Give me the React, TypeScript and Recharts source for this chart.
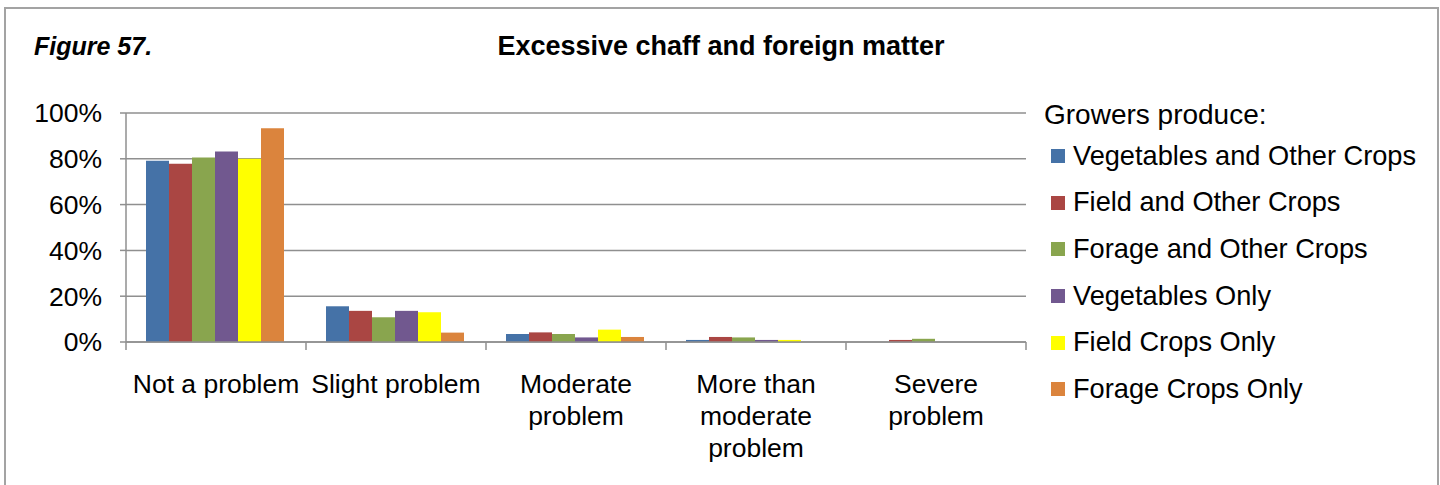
import React from "react";
import { BarChart, Bar, XAxis, YAxis, CartesianGrid, Legend } from "recharts";

const categories = [
  "Not a problem",
  "Slight problem",
  "Moderate problem",
  "More than moderate problem",
  "Severe problem",
];
const categoryLabelLines = [
  ["Not a problem"],
  ["Slight problem"],
  ["Moderate", "problem"],
  ["More than", "moderate", "problem"],
  ["Severe", "problem"],
];
const seriesNames = [
  "Vegetables and Other Crops",
  "Field and Other Crops",
  "Forage and Other Crops",
  "Vegetables Only",
  "Field Crops Only",
  "Forage Crops Only",
];
const seriesColors = ["#4572A7", "#AA4643", "#89A54E", "#71588F", "#FFFF00", "#DB843D"];

const vegetablesAndOther = [79.1, 15.6, 3.5, 0.9, 0];
const fieldAndOther = [77.8, 13.6, 4.2, 2.2, 0.9];
const forageAndOther = [80.6, 10.8, 3.5, 2.0, 1.4];
const vegetablesOnly = [83.2, 13.6, 2.0, 0.9, 0];
const fieldOnly = [80.0, 13.0, 5.4, 0.9, 0];
const forageOnly = [93.3, 4.1, 2.2, 0, 0];

const yTicks = [0, 20, 40, 60, 80, 100];
const legendTitle = "Growers produce:";
const figureLabel = "Figure 57.";
const chartTitle = "Excessive chaff and foreign matter";

const seriesValues = [vegetablesAndOther, fieldAndOther, forageAndOther, vegetablesOnly, fieldOnly, forageOnly];
const data = categories.map((c, i) => {
  const row: any = { category: c };
  seriesNames.forEach((s, j) => {
    row[s] = seriesValues[j][i];
  });
  return row;
});

const FONT = '"Liberation Sans", Arial, sans-serif';
const FS = 26.5;
const LEG_FS = 27.2;
const GRID = "#8f8f8f";
const PLOT_LEFT = 126;
const PLOT_RIGHT = 1026;
const PLOT_TOP = 113;
const PLOT_BOTTOM = 342;
const W = 1440;
const H = 485;
const BAND = (PLOT_RIGHT - PLOT_LEFT) / categories.length;

const CategoryTick = (props: any) => {
  const { x, y, index } = props;
  const half = BAND / 2;
  const lines = categoryLabelLines[index] || [String(props.payload?.value ?? "")];
  return (
    <g>
      <line x1={x - half} x2={x - half} y1={y} y2={y + 8} stroke={GRID} strokeWidth={1.5} />
      {index === categories.length - 1 && (
        <line x1={x + half} x2={x + half} y1={y} y2={y + 8} stroke={GRID} strokeWidth={1.5} />
      )}
      <text x={x} textAnchor="middle" fontFamily={FONT} fontSize={FS} fill="#000">
        {lines.map((l, i) => (
          <tspan key={i} x={x} y={y + 51 + i * 32}>
            {l}
          </tspan>
        ))}
      </text>
    </g>
  );
};

const LegendContent = (props: any) => {
  const payload = [...(props.payload || [])].sort(
    (a: any, b: any) => seriesNames.indexOf(a.value) - seriesNames.indexOf(b.value)
  );
  const ox = 1040;
  const rowTop = (baseline: number, fs: number) => baseline - (46.67 - 1.117 * fs) / 2 - 0.905 * fs;
  return (
    <div style={{ position: "relative", fontFamily: FONT, color: "#000", whiteSpace: "nowrap" }}>
      <div
        style={{
          position: "absolute",
          left: 1044 - ox,
          top: rowTop(125, 28),
          lineHeight: "46.67px",
          fontSize: 28,
        }}
      >
        {legendTitle}
      </div>
      {payload.map((p: any, i: number) => {
        const baseline = 165.5 + i * 46.67;
        return (
          <React.Fragment key={i}>
            <div
              style={{
                position: "absolute",
                left: 1051 - ox,
                top: baseline - 9.5 - 7,
                width: 14,
                height: 14,
                background: p.color,
              }}
            />
            <div
              style={{
                position: "absolute",
                left: 1073 - ox,
                top: rowTop(baseline, LEG_FS),
                lineHeight: "46.67px",
                fontSize: LEG_FS,
              }}
            >
              {p.value}
            </div>
          </React.Fragment>
        );
      })}
    </div>
  );
};

export default function App() {
  return (
    <div style={{ position: "absolute", left: 0, top: 0, width: W, height: H, overflow: "hidden", background: "#fff" }}>
      <div
        style={{
          position: "absolute",
          left: 4,
          top: 7,
          width: 1431,
          height: 500,
          border: "2px solid #a3a3a3",
        }}
      />
      <div
        style={{
          position: "absolute",
          left: 34,
          top: 55 - 23,
          fontFamily: FONT,
          fontSize: 25,
          fontWeight: "bold",
          fontStyle: "italic",
          lineHeight: "28px",
          whiteSpace: "nowrap",
        }}
      >
        {figureLabel}
      </div>
      <div
        style={{
          position: "absolute",
          left: 421,
          width: 600,
          top: 55 - 24,
          textAlign: "center",
          fontFamily: FONT,
          fontSize: 27,
          fontWeight: "bold",
          lineHeight: "30px",
          whiteSpace: "nowrap",
        }}
      >
        {chartTitle}
      </div>
      <div style={{ position: "absolute", left: 0, top: 0 }}>
        <BarChart
          width={W}
          height={H}
          data={data}
          margin={{ top: PLOT_TOP, right: W - PLOT_RIGHT, bottom: 0, left: 0 }}
          barCategoryGap={20}
          barGap={0}
        >
          <CartesianGrid vertical={false} stroke={GRID} strokeWidth={1.5} />
          <XAxis
            dataKey="category"
            height={H - PLOT_BOTTOM}
            axisLine={{ stroke: GRID, strokeWidth: 1.5 }}
            tickLine={false}
            tickSize={0}
            tickMargin={0}
            interval={0}
            tick={<CategoryTick />}
          />
          <YAxis
            width={PLOT_LEFT}
            domain={[0, 100]}
            ticks={yTicks}
            interval={0}
            tickFormatter={(v: number) => `${v}%`}
            axisLine={{ stroke: GRID, strokeWidth: 1.5 }}
            tickLine={{ stroke: GRID, strokeWidth: 1.5 }}
            tickSize={6}
            tickMargin={18}
            tick={{ fontFamily: FONT, fontSize: FS, fill: "#000" }}
          />
          <Legend
            layout="vertical"
            align="center"
            verticalAlign="middle"
            wrapperStyle={{ left: 1040, top: 0, width: 400, height: 420 }}
            content={<LegendContent />}
          />
          {seriesNames.map((s, i) => (
            <Bar key={s} dataKey={s} name={s} fill={seriesColors[i]} isAnimationActive={false} />
          ))}
        </BarChart>
      </div>
    </div>
  );
}
